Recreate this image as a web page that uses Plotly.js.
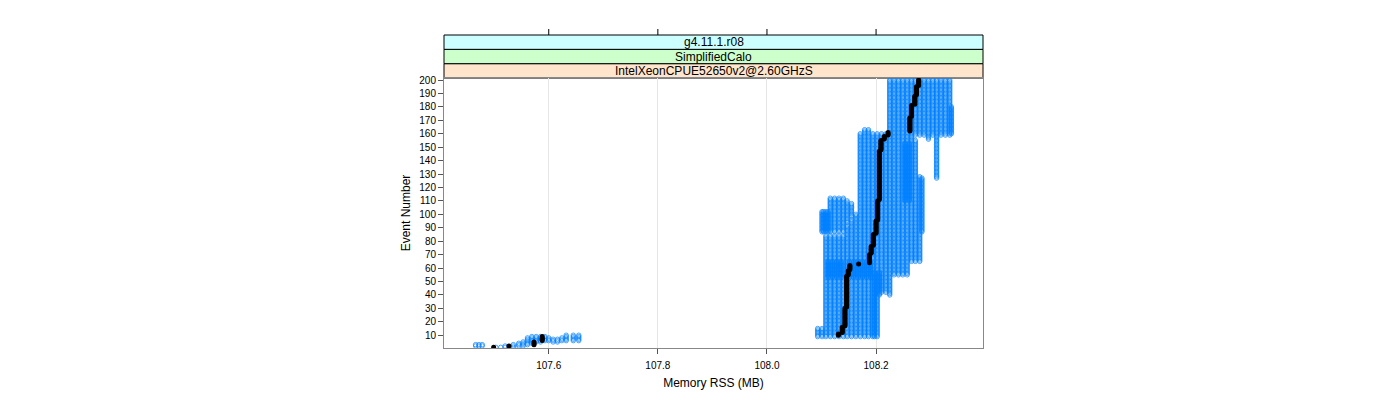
<!DOCTYPE html>
<html><head><meta charset="utf-8">
<script src="https://cdn.plot.ly/plotly-3.0.1.min.js"></script>
<style>html,body{margin:0;padding:0;background:#fff}#chart{width:1400px;height:400px}</style>
</head><body><div id="chart"></div>
<script>
// ---- strip labels (lattice conditioning levels, bottom to top) ----
const stripLabels = ["IntelXeonCPUE52650v2@2.60GHzS", "SimplifiedCalo", "g4.11.1.r08"];
const stripColors = ["#ffe5cc", "#ccffcc", "#ccffff"];

// ---- axis ticks ----
const xTickVals = [107.6, 107.8, 108.0, 108.2];
const xTickText = ["107.6", "107.8", "108.0", "108.2"];
const yTickVals = [10,20,30,40,50,60,70,80,90,100,110,120,130,140,150,160,170,180,190,200];

// ---- blue runs (all jobs): memory RSS value held over an event range ----
const blueMem = [
 107.466,107.472,107.478,107.503,107.512,107.520,107.535,107.545,107.553,107.561,
 107.569,107.577,107.585,107.593,107.600,107.608,107.616,107.624,107.632,107.645,107.655,
 108.093,108.101,108.101,108.104,108.108,108.108,108.112,108.116,108.116,108.124,
 108.124,108.132,108.132,108.140,108.140,108.147,108.147,108.155,108.155,108.163,
 108.171,108.179,108.186,108.194,108.197,108.202,108.206,108.210,108.218,108.225,
 108.233,108.241,108.249,108.257,108.265,108.272,108.280,108.284,108.253,108.261,
 108.296,108.311,
 108.225,108.233,108.241,108.249,108.257,108.265,108.272,108.280,108.288,108.296,
 108.304,108.311,108.319,108.327,108.335,108.338,
 108.112,108.120,108.128,108.136,108.151,108.159,108.167,108.175,108.183,108.190
];
const blueFrom = [
 2,2,2,1,1,1,1,2,2,3,
 4,5,5,6,6,5,5,6,6,6,6,
 9,9,87,87,9,87,87,9,87,9,
 87,9,87,9,87,9,94,9,98,9,
 9,9,9,9,9,9,40,42,42,40,
 55,55,55,55,65,65,65,87,110,110,
 156,127,
 159,159,159,159,159,159,159,159,159,159,
 159,159,159,159,159,160,
 53,53,53,53,53,53,53,53,53,53
];
const blueTo = [
 3,3,3,1,1,2,3,4,5,8,
 9,9,9,9,8,7,7,8,10,10,10,
 15,15,102,102,84,102,102,84,112,84,
 112,84,112,84,112,92,110,96,108,100,
 160,163,163,160,57,160,57,160,160,158,
 158,158,158,158,158,155,128,127,153,153,
 158,158,
 200,200,200,200,200,200,200,200,200,200,
 200,200,200,200,200,180,
 65,65,65,65,65,65,65,65,65,65
];

// ---- black run (highlighted job) ----
const blackMem = [107.499,107.527,107.573,107.588,
 108.131,108.138,108.143,108.146,108.149,108.152,108.168,108.188,108.191,108.195,
 108.200,108.203,108.206,108.209,108.215,108.222,
 108.262,108.265,108.271,108.274,108.278];
const blackFrom = [1,2,3,6, 10,12,17,31,55,59,63,64,71,77, 86,96,111,148,156,159, 162,173,182,189,196];
const blackTo   = [1,2,5,9, 11,16,30,54,58,62,63,70,76,85, 95,110,147,155,158,161, 172,181,188,195,200];

function expandRuns(mem, from, to) {
  const x = [], y = [];
  for (let i = 0; i < mem.length; i++) {
    for (let ev = from[i]; ev <= to[i]; ev++) { x.push(mem[i]); y.push(ev); }
  }
  return {x, y};
}
const blue = expandRuns(blueMem, blueFrom, blueTo);
const black = expandRuns(blackMem, blackFrom, blackTo);

const FONT = "Liberation Sans, Arial, Helvetica, sans-serif";
const traces = [
  {type: "scatter", mode: "markers", x: blue.x, y: blue.y, hoverinfo: "skip",
   marker: {symbol: "circle-open", size: 4.5, color: "#0080ff", line: {width: 0.7, color: "#0080ff"}},
   showlegend: false, cliponaxis: true},
  {type: "scatter", mode: "markers", x: black.x, y: black.y, hoverinfo: "skip",
   marker: {symbol: "circle", size: 5, color: "#000000"},
   showlegend: false, cliponaxis: true}
];

// geometry: plot panel 270px tall, strips stacked above it up to paper top
const panelTop = 270 / 313;
const stripH = (1 - panelTop) / 3;
const shapes = [], annotations = [];
for (let i = 0; i < stripLabels.length; i++) {
  const y0 = panelTop + i * stripH, y1 = y0 + stripH;
  shapes.push({type: "rect", xref: "paper", yref: "paper", x0: 0, x1: 1, y0: y0, y1: y1,
    fillcolor: stripColors[i], line: {color: "#000000", width: 1}, layer: "below"});
  annotations.push({xref: "paper", yref: "paper", x: 0.5, y: (y0 + y1) / 2, text: stripLabels[i],
    showarrow: false, xanchor: "center", yanchor: "middle",
    font: {family: FONT, size: 12, color: "#000"}});
}
// top tick marks (lattice draws ticks on the top edge, above the strips)
for (const v of xTickVals) {
  shapes.push({type: "line", xref: "x", yref: "paper", x0: v, x1: v, y0: 1, y1: 1 + 6 / 313,
    line: {color: "#000000", width: 1}});
}

const layout = {
  width: 1400, height: 400,
  margin: {l: 444, r: 417, t: 35, b: 52, pad: 0},
  paper_bgcolor: "#ffffff", plot_bgcolor: "#ffffff",
  font: {family: FONT, size: 10, color: "#000"},
  showlegend: false,
  xaxis: {
    range: [107.408, 108.396], tickvals: xTickVals, ticktext: xTickText,
    ticks: "outside", ticklen: 5, tickcolor: "#555", tickwidth: 1,
    showline: true, linecolor: "#888", linewidth: 1, mirror: true,
    showgrid: true, gridcolor: "#e6e6e6", gridwidth: 1, zeroline: false,
    tickfont: {family: FONT, size: 10, color: "#000"}, ticklabelstandoff: 3,
    title: {text: "Memory RSS (MB)", font: {family: FONT, size: 12, color: "#000"}, standoff: 8}
  },
  yaxis: {
    domain: [0, panelTop],
    range: [0.5, 201.5], tickvals: yTickVals, ticktext: yTickVals.map(String),
    ticks: "outside", ticklen: 5, tickcolor: "#555", tickwidth: 1,
    showline: true, linecolor: "#888", linewidth: 1, mirror: true,
    showgrid: false, zeroline: false,
    tickfont: {family: FONT, size: 10, color: "#000"},
    title: {text: "Event Number", font: {family: FONT, size: 12, color: "#000"}, standoff: 6}
  },
  shapes: shapes, annotations: annotations
};

Plotly.newPlot("chart", traces, layout, {staticPlot: true, displayModeBar: false});
</script>
</body></html>
